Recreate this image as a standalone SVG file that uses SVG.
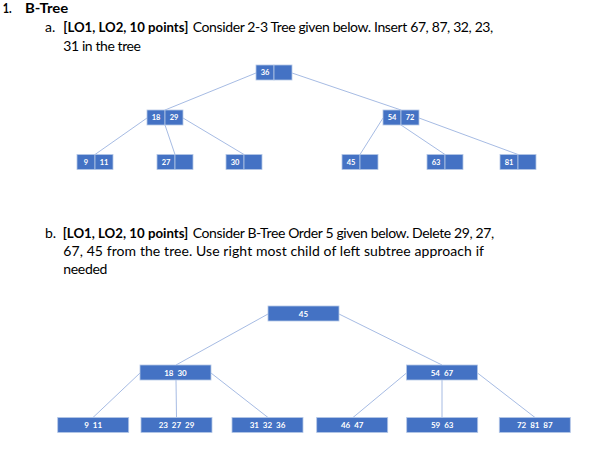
<svg xmlns="http://www.w3.org/2000/svg" width="596" height="464" viewBox="0 0 596 464">
<style>
.t{font-family:Lato,"Open Sans","Liberation Sans",sans-serif;font-size:14px;fill:#000}
.b{font-weight:bold}
.cell{fill:#4472C4;stroke:#B4C7E7;stroke-width:0.8}
.nt{font-family:Lato,"Open Sans","Liberation Sans",sans-serif;font-size:7.5px;font-weight:bold;fill:#fff;text-anchor:middle}
.nb{font-family:Lato,"Open Sans","Liberation Sans",sans-serif;font-size:8px;font-weight:bold;fill:#fff;text-anchor:middle;word-spacing:2px}
.e{stroke:#8FAADC;stroke-width:0.8;fill:none}
</style>
<rect width="596" height="464" fill="#fff"/>
<g id="text">
<text class="t b" x="2.7" y="13" textLength="9" lengthAdjust="spacingAndGlyphs">1.</text>
<text class="t b" x="25" y="13" textLength="43.3" lengthAdjust="spacingAndGlyphs">B-Tree</text>
<text class="t" x="45" y="31.5">a.</text>
<text class="t b" x="63.3" y="31.5" textLength="125" lengthAdjust="spacingAndGlyphs">[LO1, LO2, 10 points]</text>
<text class="t" x="192.7" y="31.5" textLength="300.6" lengthAdjust="spacing">Consider 2-3 Tree given below. Insert 67, 87, 32, 23,</text>
<text class="t" x="63.3" y="50.5" textLength="77.7" lengthAdjust="spacing">31 in the tree</text>
<text class="t" x="45" y="238">b.</text>
<text class="t b" x="62.7" y="238" textLength="125.6" lengthAdjust="spacingAndGlyphs">[LO1, LO2, 10 points]</text>
<text class="t" x="192.7" y="238" textLength="301.6" lengthAdjust="spacing">Consider B-Tree Order 5 given below. Delete 29, 27,</text>
<text class="t" x="63.3" y="256" textLength="420.7" lengthAdjust="spacing">67, 45 from the tree. Use right most child of left subtree approach if</text>
<text class="t" x="63.3" y="273.5" textLength="44" lengthAdjust="spacing">needed</text>
</g>
<g id="connectors">
<line class="e" x1="256" y1="73" x2="165" y2="110"/>
<line class="e" x1="292" y1="73" x2="401" y2="110"/>
<line class="e" x1="147" y1="118" x2="95" y2="154.5"/>
<line class="e" x1="165" y1="125" x2="175" y2="154.5"/>
<line class="e" x1="183" y1="118" x2="244" y2="154.5"/>
<line class="e" x1="383" y1="118" x2="360" y2="154.5"/>
<line class="e" x1="401" y1="125" x2="445" y2="154.5"/>
<line class="e" x1="419" y1="118" x2="518" y2="154.5"/>
<line class="e" x1="268" y1="314" x2="176" y2="365"/>
<line class="e" x1="339" y1="314" x2="442" y2="365"/>
<line class="e" x1="140" y1="373" x2="93" y2="417.5"/>
<line class="e" x1="176" y1="380" x2="176.5" y2="417.5"/>
<line class="e" x1="211" y1="373" x2="268" y2="417.5"/>
<line class="e" x1="406.5" y1="373" x2="353" y2="417.5"/>
<line class="e" x1="442" y1="380" x2="442" y2="417.5"/>
<line class="e" x1="477.5" y1="373" x2="535" y2="417.5"/>
</g>
<g id="a_root"><rect class="cell" x="256" y="65" width="18" height="15"/><rect class="cell" x="274" y="65" width="18" height="15"/><text class="nt" x="265" y="75.2">36</text></g>
<g id="a_18_29"><rect class="cell" x="147" y="110" width="18" height="15"/><rect class="cell" x="165" y="110" width="18" height="15"/><text class="nt" x="156" y="120.2">18</text><text class="nt" x="174" y="120.2">29</text></g>
<g id="a_54_72"><rect class="cell" x="383" y="110" width="18" height="15"/><rect class="cell" x="401" y="110" width="18" height="15"/><text class="nt" x="392" y="120.2">54</text><text class="nt" x="410" y="120.2">72</text></g>
<g id="a_9_11"><rect class="cell" x="77" y="154.5" width="18" height="15"/><rect class="cell" x="95" y="154.5" width="18" height="15"/><text class="nt" x="86" y="164.7">9</text><text class="nt" x="104" y="164.7">11</text></g>
<g id="a_27"><rect class="cell" x="157" y="154.5" width="18" height="15"/><rect class="cell" x="175" y="154.5" width="18" height="15"/><text class="nt" x="166" y="164.7">27</text></g>
<g id="a_30"><rect class="cell" x="226" y="154.5" width="18" height="15"/><rect class="cell" x="244" y="154.5" width="18" height="15"/><text class="nt" x="235" y="164.7">30</text></g>
<g id="a_45"><rect class="cell" x="342" y="154.5" width="18" height="15"/><rect class="cell" x="360" y="154.5" width="18" height="15"/><text class="nt" x="351" y="164.7">45</text></g>
<g id="a_63"><rect class="cell" x="427" y="154.5" width="18" height="15"/><rect class="cell" x="445" y="154.5" width="18" height="15"/><text class="nt" x="436" y="164.7">63</text></g>
<g id="a_81"><rect class="cell" x="500" y="154.5" width="18" height="15"/><rect class="cell" x="518" y="154.5" width="18" height="15"/><text class="nt" x="509" y="164.7">81</text></g>
<g id="b_root"><rect class="cell" x="268" y="306" width="71" height="15"/><text class="nb" x="303.5" y="316.5">45</text></g>
<g id="b_18_30"><rect class="cell" x="140" y="365" width="71" height="15"/><text class="nb" x="175.5" y="375.5">18 30</text></g>
<g id="b_54_67"><rect class="cell" x="406.5" y="365" width="71" height="15"/><text class="nb" x="442" y="375.5">54 67</text></g>
<g id="b_9_11"><rect class="cell" x="57.7" y="417.5" width="71" height="15"/><text class="nb" x="93.2" y="428">9 11</text></g>
<g id="b_23_27_29"><rect class="cell" x="141" y="417.5" width="71" height="15"/><text class="nb" x="176.5" y="428">23 27 29</text></g>
<g id="b_31_32_36"><rect class="cell" x="232" y="417.5" width="71" height="15"/><text class="nb" x="267.5" y="428">31 32 36</text></g>
<g id="b_46_47"><rect class="cell" x="316.7" y="417.5" width="71" height="15"/><text class="nb" x="352.2" y="428">46 47</text></g>
<g id="b_59_63"><rect class="cell" x="406.7" y="417.5" width="71" height="15"/><text class="nb" x="442.2" y="428">59 63</text></g>
<g id="b_72_81_87"><rect class="cell" x="499.3" y="417.5" width="71" height="15"/><text class="nb" x="534.8" y="428">72 81 87</text></g>
</svg>
